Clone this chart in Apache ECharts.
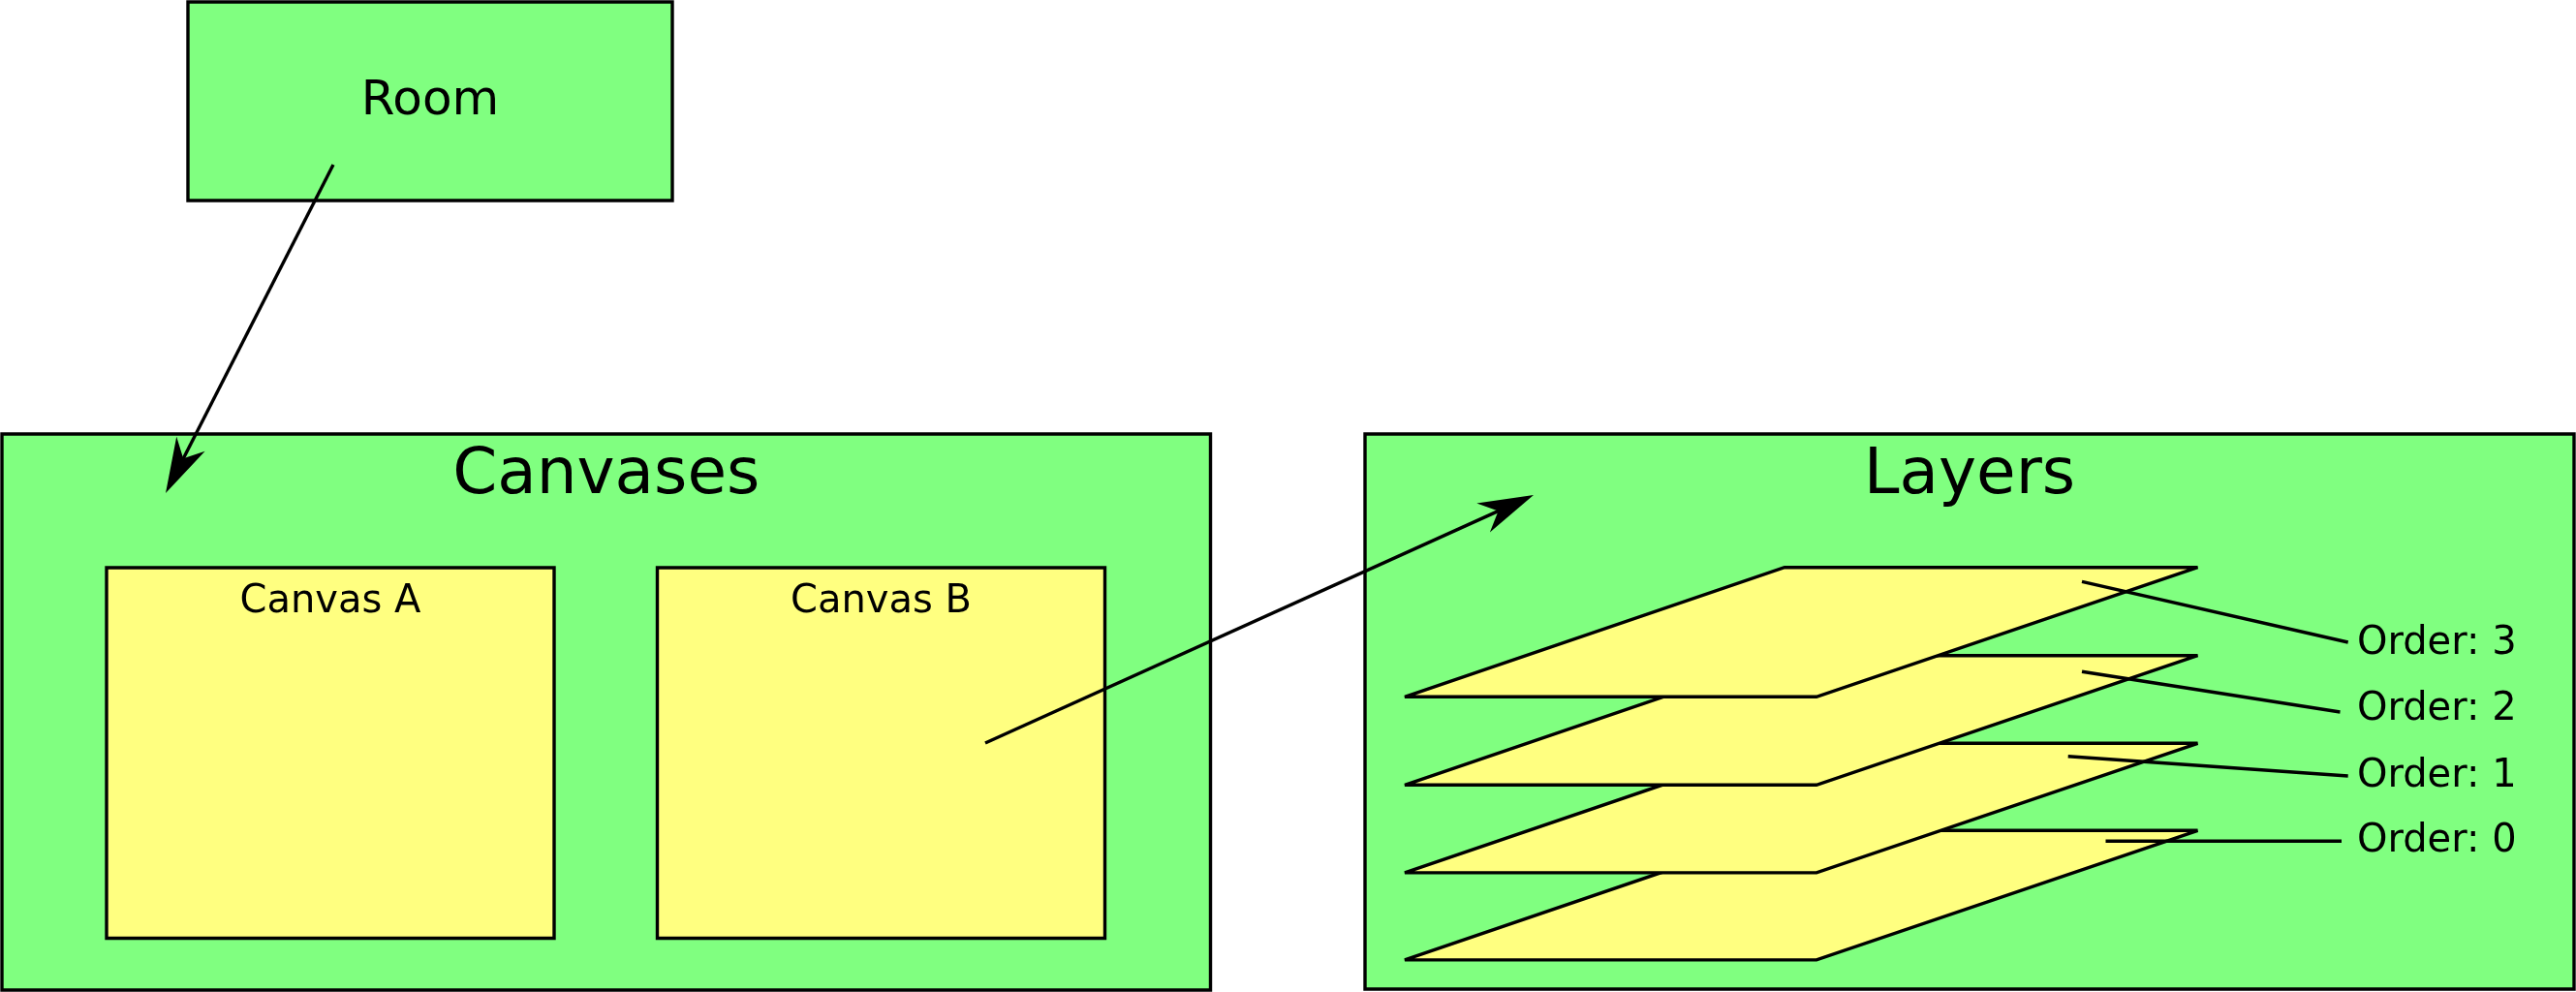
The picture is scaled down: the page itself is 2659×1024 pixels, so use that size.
<!DOCTYPE html>
<html>
<head>
<meta charset="utf-8">
<script src="https://cdn.jsdelivr.net/npm/echarts@6/dist/echarts.min.js"></script>
<style>
html,body{margin:0;padding:0;background:#ffffff;}
#chart{width:2659px;height:1024px;}
</style>
</head>
<body>
<div id="chart"></div>
<script>
// ---- diagram data (in diagram units) ----
const boxNames  = ['Room', 'Canvases', 'Layers', 'Canvas A', 'Canvas B'];
const boxKinds  = ['group', 'group', 'group', 'canvas', 'canvas'];
const boxLeft   = [194, 2, 1409, 110, 678.5];
const boxTop    = [2, 448, 448, 586, 586];
const boxRight  = [694, 1249.5, 2657, 572, 1140.5];
const boxBottom = [207, 1022, 1021, 968.5, 968.5];

// stacked layer sheets (order 0 .. 3), top edge of each sheet
const layerOrders = [0, 1, 2, 3];
const layerTopY   = [857.3, 767.3, 676.7, 585.7];
const layerDepth  = 133.6;           // vertical extent of each sheet
const layerTopX   = [1842, 2268.5];  // back edge x range
const layerBotX   = [1450, 1875];    // front edge x range

// order labels and their leader lines
const orderLabels  = ['Order: 0', 'Order: 1', 'Order: 2', 'Order: 3'];
const orderLabelX  = [2433, 2433, 2433, 2433];
const orderLabelY  = [869, 801.5, 733, 664.5];
const leaderStartX = [2173.5, 2134.7, 2149, 2149];
const leaderStartY = [868.3, 780.7, 693.3, 600.3];
const leaderEndX   = [2417, 2423.7, 2415.5, 2423.7];
const leaderEndY   = [868.3, 801, 735, 663];

// arrows: start point -> tip
const arrowNames  = ['Room to Canvases', 'Canvas B to Layers'];
const arrowFromX  = [344, 1017];
const arrowFromY  = [170, 767];
const arrowToX    = [171, 1583];
const arrowToY    = [509, 511];

// ---- styles ----
const GREEN = '#80ff80';
const YELLOW = '#ffff80';
const INK = '#000000';
const LW = 3.4;
const FONT = '"DejaVu Sans", "Noto Sans", sans-serif';
const titleSize = { group: 66, canvas: 40 };
const roomSize = 50;

const chart = echarts.init(document.getElementById('chart'), null, { renderer: 'canvas' });

function boxRender(params, api) {
  const i = params.dataIndex;
  const p0 = api.coord([api.value(0), api.value(1)]);
  const p1 = api.coord([api.value(2), api.value(3)]);
  const kind = boxKinds[i];
  const name = boxNames[i];
  const x = Math.min(p0[0], p1[0]), y = Math.min(p0[1], p1[1]);
  const w = Math.abs(p1[0] - p0[0]), h = Math.abs(p1[1] - p0[1]);
  let fs, ty;
  if (name === 'Room') { fs = roomSize; ty = y + h / 2 + 1; }
  else if (kind === 'group') { fs = titleSize.group; ty = y + 44; }
  else { fs = titleSize.canvas; ty = y + 35.5; }
  return {
    type: 'group',
    children: [
      { type: 'rect', shape: { x: x, y: y, width: w, height: h },
        style: { fill: kind === 'group' ? GREEN : YELLOW, stroke: INK, lineWidth: LW } },
      { type: 'text', style: { text: name, x: x + w / 2, y: ty, align: 'center',
        verticalAlign: 'middle', font: fs + 'px ' + FONT, fill: INK } }
    ]
  };
}

function layerRender(params, api) {
  const top = api.value(1);
  const a = api.coord([layerTopX[0], top]);
  const b = api.coord([layerTopX[1], top]);
  const c = api.coord([layerBotX[1], top + layerDepth]);
  const d = api.coord([layerBotX[0], top + layerDepth]);
  return { type: 'polygon', shape: { points: [a, b, c, d] },
    style: { fill: YELLOW, stroke: INK, lineWidth: LW, lineJoin: 'miter', miterLimit: 4 } };
}

function leaderRender(params, api) {
  const s = api.coord([api.value(0), api.value(1)]);
  const e = api.coord([api.value(2), api.value(3)]);
  return { type: 'line', shape: { x1: s[0], y1: s[1], x2: e[0], y2: e[1] },
    style: { stroke: INK, lineWidth: LW } };
}

function labelRender(params, api) {
  const p = api.coord([api.value(0), api.value(1)]);
  return { type: 'text', style: { text: orderLabels[params.dataIndex], x: p[0], y: p[1],
    align: 'left', verticalAlign: 'middle', font: '40px ' + FONT, fill: INK } };
}

function arrowRender(params, api) {
  const s = api.coord([api.value(0), api.value(1)]);
  const t = api.coord([api.value(2), api.value(3)]);
  const dx = t[0] - s[0], dy = t[1] - s[1];
  const len = Math.sqrt(dx * dx + dy * dy);
  const ux = dx / len, uy = dy / len;
  const vx = -uy, vy = ux;
  const back = 57, half = 16.5, notch = 40;
  const n = [t[0] - notch * ux, t[1] - notch * uy];
  const c1 = [t[0] - back * ux + half * vx, t[1] - back * uy + half * vy];
  const c2 = [t[0] - back * ux - half * vx, t[1] - back * uy - half * vy];
  const le = [t[0] - (notch - 4) * ux, t[1] - (notch - 4) * uy];
  return {
    type: 'group',
    children: [
      { type: 'line', shape: { x1: s[0], y1: s[1], x2: le[0], y2: le[1] },
        style: { stroke: INK, lineWidth: LW } },
      { type: 'polygon', shape: { points: [t, c1, n, c2] }, style: { fill: INK } }
    ]
  };
}

const option = {
  animation: false,
  backgroundColor: '#ffffff',
  grid: { left: 0, right: 0, top: 0, bottom: 0 },
  xAxis: { type: 'value', min: 0, max: 2659, show: false },
  yAxis: { type: 'value', min: 0, max: 1024, inverse: true, show: false },
  series: [
    { type: 'custom', name: 'boxes', renderItem: boxRender, encode: { x: [0, 2], y: [1, 3] },
      data: boxNames.map((n, i) => [boxLeft[i], boxTop[i], boxRight[i], boxBottom[i]]) },
    { type: 'custom', name: 'layers', renderItem: layerRender, encode: { x: 0, y: 1 },
      data: layerOrders.map((o, i) => [o, layerTopY[i]]) },
    { type: 'custom', name: 'leaders', renderItem: leaderRender, encode: { x: [0, 2], y: [1, 3] },
      data: orderLabels.map((l, i) => [leaderStartX[i], leaderStartY[i], leaderEndX[i], leaderEndY[i]]) },
    { type: 'custom', name: 'orderLabels', renderItem: labelRender, encode: { x: 0, y: 1 },
      data: orderLabels.map((l, i) => [orderLabelX[i], orderLabelY[i]]) },
    { type: 'custom', name: 'arrows', renderItem: arrowRender, encode: { x: [0, 2], y: [1, 3] },
      data: arrowNames.map((a, i) => [arrowFromX[i], arrowFromY[i], arrowToX[i], arrowToY[i]]) }
  ]
};
chart.setOption(option);
</script>
</body>
</html>
